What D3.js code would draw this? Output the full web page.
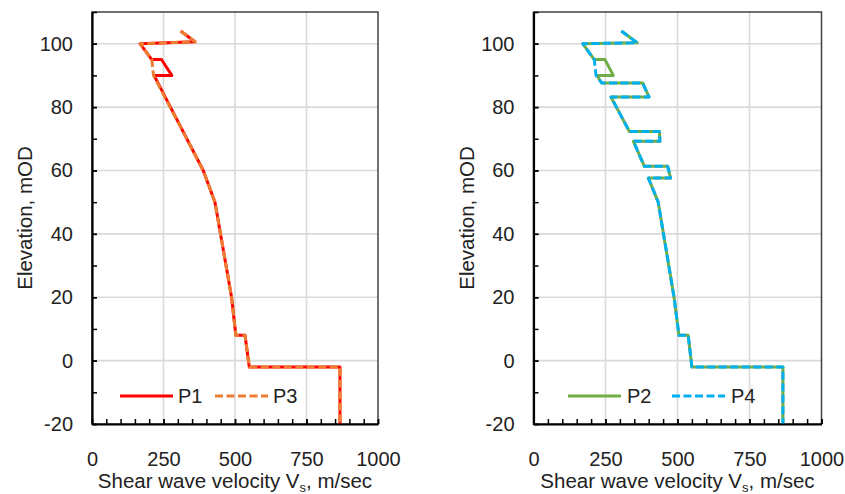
<!DOCTYPE html>
<html>
<head>
<meta charset="utf-8">
<script src="https://cdnjs.cloudflare.com/ajax/libs/d3/7.8.5/d3.min.js"></script>
<style>
  body { margin: 0; background: #fff; }
  svg text { font-family: "Liberation Sans", Arial, sans-serif; fill: #222; }
</style>
</head>
<body>
<svg id="chart" width="845" height="494"></svg>
<script>
// axis ticks
var xTicks = [0, 250, 500, 750, 1000];
var yTicks = [-20, 0, 20, 40, 60, 80, 100];

// profiles: Vs (m/sec) against elevation (mOD)
var p1Vs   = [310, 360, 168, 209, 243, 279, 217, 389, 430, 488, 503, 535, 550, 867, 867];
var p1Elev = [104, 100.6, 100, 95, 95, 90, 90, 60, 50, 20, 8, 8, -2, -2, -20];
var p3Vs   = [310, 360, 168, 209, 215, 389, 430, 488, 503, 535, 550, 867, 867];
var p3Elev = [104, 100.6, 100, 95, 90, 60, 50, 20, 8, 8, -2, -2, -20];

var p2Vs   = [305, 360, 171, 211, 248, 277, 220, 237, 379, 401, 269, 333, 437, 439, 347, 385, 466, 476, 399, 433, 488, 505, 537, 550, 866, 866];
var p2Elev = [104, 100.3, 100, 95, 95, 90, 90, 87.6, 87.6, 83.2, 83.2, 72.3, 72.3, 69.2, 69.2, 61.3, 61.3, 57.6, 57.6, 50, 20, 8, 8, -2, -2, -20];
var p4Vs   = [305, 360, 171, 211, 217, 237, 379, 401, 269, 333, 437, 439, 347, 385, 466, 476, 399, 433, 488, 505, 537, 550, 866, 866];
var p4Elev = [104, 100.3, 100, 95, 90, 87.6, 87.6, 83.2, 83.2, 72.3, 72.3, 69.2, 69.2, 61.3, 61.3, 57.6, 57.6, 50, 20, 8, 8, -2, -2, -20];

function zip(vs, elev) {
  return vs.map(function(v, i) { return {vs: v, elev: elev[i]}; });
}

var panels = [
  {
    left: 92, right: 378,
    series: [
      {name: 'P1', data: zip(p1Vs, p1Elev), color: '#ff0000', dash: null, lx: 120, tx: 178},
      {name: 'P3', data: zip(p3Vs, p3Elev), color: '#ed7d31', dash: '8,3.5', lx: 215, tx: 273}
    ]
  },
  {
    left: 533.5, right: 821.5,
    series: [
      {name: 'P2', data: zip(p2Vs, p2Elev), color: '#70ad47', dash: null, lx: 568, tx: 627},
      {name: 'P4', data: zip(p4Vs, p4Elev), color: '#00b0f0', dash: '8,3.5', lx: 672, tx: 731}
    ]
  }
];

var plotTop = 12, plotBottom = 424;
var svg = d3.select('#chart');

panels.forEach(function(p) {
  var x = d3.scaleLinear().domain([0, 1000]).range([p.left, p.right]);
  var y = d3.scaleLinear().domain([-20, 110]).range([plotBottom, plotTop]);
  var g = svg.append('g');

  // gridlines
  g.selectAll('line.gx')
    .data(xTicks.filter(function(d) { return d > 0 && d < 1000; }))
    .enter().append('line')
    .attr('x1', function(d) { return x(d); }).attr('x2', function(d) { return x(d); })
    .attr('y1', plotTop).attr('y2', plotBottom)
    .attr('stroke', '#d9d9d9').attr('stroke-width', 1.6);
  g.selectAll('line.gy')
    .data(yTicks.filter(function(d) { return d > -20; }))
    .enter().append('line')
    .attr('x1', p.left).attr('x2', p.right)
    .attr('y1', function(d) { return y(d); }).attr('y2', function(d) { return y(d); })
    .attr('stroke', '#d9d9d9').attr('stroke-width', 1.6);

  // plot border
  g.append('rect')
    .attr('x', p.left).attr('y', plotTop)
    .attr('width', p.right - p.left).attr('height', plotBottom - plotTop)
    .attr('fill', 'none').attr('stroke', '#404040').attr('stroke-width', 1.5);

  // series
  var line = d3.line()
    .x(function(d) { return x(d.vs); })
    .y(function(d) { return y(d.elev); });
  p.series.forEach(function(s) {
    g.append('path')
      .attr('d', line(s.data))
      .attr('fill', 'none')
      .attr('stroke', s.color)
      .attr('stroke-width', 3)
      .attr('stroke-linejoin', 'round')
      .attr('stroke-dasharray', s.dash);

    // legend
    g.append('line')
      .attr('x1', s.lx).attr('x2', s.lx + 53)
      .attr('y1', 396).attr('y2', 396)
      .attr('stroke', s.color).attr('stroke-width', 3)
      .attr('stroke-dasharray', s.dash);
    g.append('text')
      .attr('x', s.tx).attr('y', 396).attr('dy', '0.35em')
      .style('font-size', '20px')
      .text(s.name);
  });

  // minor ticks
  g.append('g')
    .attr('transform', 'translate(' + p.left + ',0)')
    .call(d3.axisLeft(y).tickValues(d3.range(-20, 111, 10)).tickSize(-5).tickSizeOuter(0).tickFormat(''))
    .call(function(a) { a.select('.domain').remove(); a.selectAll('line').attr('stroke', '#000').attr('stroke-width', 1.5); });
  g.append('g')
    .attr('transform', 'translate(0,' + plotBottom + ')')
    .call(d3.axisBottom(x).tickValues(d3.range(0, 1001, 50)).tickSize(-5).tickSizeOuter(0).tickFormat(''))
    .call(function(a) { a.select('.domain').remove(); a.selectAll('line').attr('stroke', '#000').attr('stroke-width', 1.5); });

  // main axes
  var ya = g.append('g')
    .attr('transform', 'translate(' + p.left + ',0)')
    .call(d3.axisLeft(y).tickValues(yTicks).tickSize(-5).tickSizeOuter(0).tickPadding(19).tickFormat(String));
  var xa = g.append('g')
    .attr('transform', 'translate(0,' + plotBottom + ')')
    .call(d3.axisBottom(x).tickValues(xTicks).tickSize(-5).tickSizeOuter(0).tickPadding(28).tickFormat(String));
  [ya, xa].forEach(function(a) {
    a.select('.domain').attr('stroke', '#000').attr('stroke-width', 2.2);
    a.selectAll('.tick line').attr('stroke', '#000').attr('stroke-width', 1.5);
    a.selectAll('text').style('font-size', '20px').attr('fill', '#222')
      .style('font-family', '"Liberation Sans", Arial, sans-serif');
  });

  // axis titles
  var xt = g.append('text')
    .attr('x', (p.left + p.right) / 2).attr('y', 488)
    .attr('text-anchor', 'middle')
    .style('font-size', '20.5px');
  xt.append('tspan').text('Shear wave velocity V');
  xt.append('tspan').text('s').style('font-size', '13px').attr('dy', 4);
  xt.append('tspan').text(', m/sec').attr('dy', -4);

  g.append('text')
    .attr('transform', 'translate(' + (p.left - 60) + ',' + ((plotTop + plotBottom) / 2) + ') rotate(-90)')
    .attr('text-anchor', 'middle')
    .style('font-size', '20.5px')
    .text('Elevation, mOD');
});
</script>
</body>
</html>
